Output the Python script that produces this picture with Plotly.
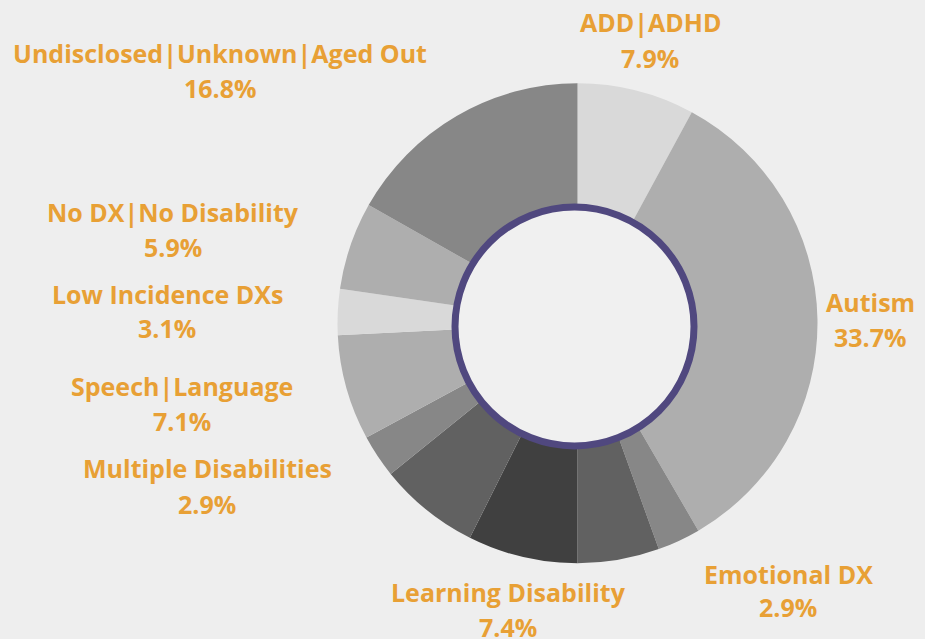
import plotly.graph_objects as go

# ---- data ----
categories = ["ADD|ADHD", "Autism", "Emotional DX", "Unlabeled A", "Learning Disability",
              "Unlabeled B", "Multiple Disabilities", "Speech|Language", "Low Incidence DXs",
              "No DX|No Disability", "Undisclosed|Unknown|Aged Out"]
values = [7.9, 33.7, 2.9, 5.5, 7.4, 6.8, 2.9, 7.1, 3.1, 5.9, 16.8]
shown_labels = [True, True, True, False, True, False, True, True, True, True, True]

# ---- styles ----
slice_colors = ["#d9d9d9", "#aeaeae", "#878787", "#616161", "#404040", "#616161",
                "#878787", "#aeaeae", "#d9d9d9", "#aeaeae", "#878787"]
# label anchor (pixel x, pixel y of name line, pixel y of pct line)
label_pos = {
    "ADD|ADHD": (650, 22, 58),
    "Autism": (870, 302, 337),
    "Emotional DX": (788, 574, 607),
    "Learning Disability": (508, 592, 627),
    "Multiple Disabilities": (207, 468, 504),
    "Speech|Language": (182, 386, 421),
    "Low Incidence DXs": (167, 294, 328),
    "No DX|No Disability": (173, 212, 247),
    "Undisclosed|Unknown|Aged Out": (220, 53, 88),
}
W, H = 925, 639
BG = "#eeeeee"
ORANGE = "#e8a035"
PURPLE = "#50487f"
FONT = "Open Sans"

cx, cy, R = 577.5, 323.3, 240
fig = go.Figure(go.Pie(
    labels=categories, values=values, sort=False, direction="clockwise", rotation=0,
    hole=0.45, textinfo="none", hoverinfo="label+value",
    marker=dict(colors=slice_colors, line=dict(width=0)),
    domain=dict(x=[(cx - R) / W, (cx + R) / W], y=[1 - (cy + R) / H, 1 - (cy - R) / H]),
    showlegend=False,
))

# inner ring
rcx, rcy, rr = 574.5, 326.5, 119.5
fig.add_shape(type="circle", xref="paper", yref="paper",
              x0=(rcx - rr) / W, x1=(rcx + rr) / W, y0=1 - (rcy + rr) / H, y1=1 - (rcy - rr) / H,
              fillcolor="#f0f0f0", line=dict(color=PURPLE, width=7))

annotations = []
for name, v, show in zip(categories, values, shown_labels):
    if not show:
        continue
    x, y1, y2 = label_pos[name]
    for txt, yy in ((name, y1), (f"{v:.1f}%", y2)):
        annotations.append(dict(
            x=x / W, y=1 - yy / H, xref="paper", yref="paper", showarrow=False,
            text=f"<b>{txt}</b>", xanchor="center", yanchor="middle",
            font=dict(family=FONT, size=25, color=ORANGE)))

fig.update_layout(width=W, height=H, margin=dict(l=0, r=0, t=0, b=0),
                  paper_bgcolor=BG, plot_bgcolor=BG, annotations=annotations)
fig.write_html("out.html", config={"displayModeBar": False},
               post_script="document.body.style.margin='0';document.body.style.overflow='hidden';")
